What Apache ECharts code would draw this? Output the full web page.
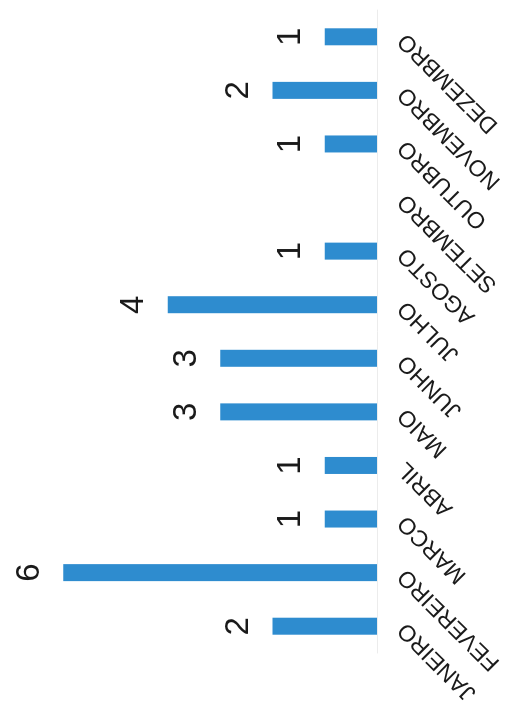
<!DOCTYPE html>
<html>
<head>
<meta charset="utf-8">
<script src="https://cdn.jsdelivr.net/npm/echarts@6/dist/echarts.min.js"></script>
<style>
  html, body { margin: 0; padding: 0; background: #ffffff; overflow: hidden; }
  #wrap { position: relative; width: 511px; height: 719px; overflow: hidden; background: #fff; }
  #chart { position: absolute; left: 0; top: 0; width: 719px; height: 511px;
           transform-origin: 0 0; transform: translateY(719px) rotate(-90deg); }
</style>
</head>
<body>
<div id="wrap"><div id="chart"></div></div>
<script>
const categories = ['JANEIRO', 'FEVEREIRO', 'MARCO', 'ABRIL', 'MAIO', 'JUNHO', 'JULHO', 'AGOSTO', 'SETEMBRO', 'OUTUBRO', 'NOVEMBRO', 'DEZEMBRO'];
const values = [2, 6, 1, 1, 3, 3, 4, 1, 0, 1, 2, 1];

const chart = echarts.init(document.getElementById('chart'), null, { renderer: 'canvas' });
chart.setOption({
  animation: false,
  backgroundColor: '#ffffff',
  grid: { left: 66, right: 10, top: 11, bottom: 134, containLabel: false },
  xAxis: {
    type: 'category',
    data: categories,
    axisLine: { show: true, lineStyle: { color: '#ececec', width: 1 } },
    axisTick: { show: false },
    axisLabel: {
      rotate: 45,
      margin: 25,
      interval: 0,
      fontFamily: 'Liberation Sans, Arial, sans-serif',
      fontSize: 23,
      color: '#1a1a1a'
    }
  },
  yAxis: {
    type: 'value',
    min: 0,
    max: 7,
    show: false,
    splitLine: { show: false }
  },
  series: [{
    type: 'bar',
    data: values,
    barWidth: 17,
    itemStyle: { color: '#2e8ccf' },
    label: {
      show: true,
      position: 'top',
      distance: 17,
      fontFamily: 'Liberation Sans, Arial, sans-serif',
      fontSize: 33,
      color: '#1a1a1a',
      formatter: function (p) { return p.value > 0 ? String(p.value) : ''; }
    }
  }]
});
</script>
</body>
</html>
